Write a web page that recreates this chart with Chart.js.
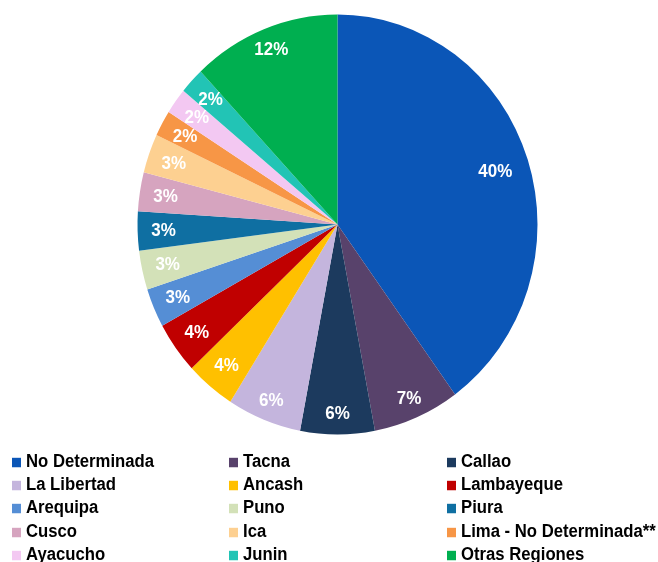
<!DOCTYPE html>
<html>
<head>
<meta charset="utf-8">
<title>Distribución por región</title>
<script src="https://cdn.jsdelivr.net/npm/chart.js@4/dist/chart.umd.min.js"></script>
<style>
  html, body { margin: 0; padding: 0; background: #ffffff; }
  body { width: 658px; height: 562px; position: relative; overflow: hidden;
         font-family: "Liberation Sans", Arial, sans-serif; }
  #pieBox { position: absolute; left: 0; top: 0; width: 658px; height: 445px; }
  #legend { position: absolute; left: 0; top: 0; width: 658px; height: 562px; }
  .item { position: absolute; font-weight: bold; font-size: 16.7px; color: #000;
          white-space: nowrap; line-height: 18px; transform: scaleY(1.05); transform-origin: left center; }
  .item i { position: absolute; left: -14px; top: 5px; width: 9px; height: 9px; }
</style>
</head>
<body>
<div id="pieBox"><canvas id="pie"></canvas></div>
<div id="legend"></div>
<script>
/* ---- Data ---- */
const REGIONS = [
  "No Determinada", "Tacna", "Callao",
  "La Libertad", "Ancash", "Lambayeque",
  "Arequipa", "Puno", "Piura",
  "Cusco", "Ica", "Lima - No Determinada**",
  "Ayacucho", "Junin", "Otras Regiones",
];
const SHARES = [40, 7, 6, 6, 4, 4, 3, 3, 3, 3, 3, 2, 2, 2, 12];
const COLORS = [
  "#0B56B7", "#58426B", "#1C3A5E",
  "#C4B5DD", "#FFC000", "#C00000",
  "#558ED5", "#D3E1B8", "#0F6FA2",
  "#D6A4BF", "#FDD091", "#F79646",
  "#F3C8F2", "#22C4B5", "#00AF50",
];

/* pie is drawn a little taller than wide */
const STRETCH_Y = 1.05;

/* Squash the arcs into an ellipse and write the percentage labels */
const ovalPie = {
  id: "ovalPie",
  beforeDatasetsDraw(chart) {
    const arc = chart.getDatasetMeta(0).data[0];
    const ctx = chart.ctx;
    ctx.save();
    ctx.translate(arc.x, arc.y);
    ctx.scale(1, STRETCH_Y);
    ctx.translate(-arc.x, -arc.y);
  },
  afterDatasetsDraw(chart) {
    const ctx = chart.ctx;
    ctx.restore();

    const arcs = chart.getDatasetMeta(0).data;
    ctx.save();
    ctx.fillStyle = "#ffffff";
    ctx.font = 'bold 17px "Liberation Sans", Arial, sans-serif';
    ctx.textAlign = "center";
    ctx.textBaseline = "middle";
    arcs.forEach((arc, i) => {
      const v = SHARES[i];
      const mid = (arc.startAngle + arc.endAngle) / 2;
      const f = v >= 20 ? 0.83 : (v >= 6 ? 0.9 : 0.87);
      const x = arc.x + Math.cos(mid) * arc.outerRadius * f;
      const y = arc.y + Math.sin(mid) * arc.outerRadius * f * STRETCH_Y;
      ctx.save();
      ctx.translate(x, y);
      ctx.scale(1, STRETCH_Y);
      ctx.fillText(v + "%", 0, 1);
      ctx.restore();
    });
    ctx.restore();
  },
};

new Chart(document.getElementById("pie"), {
  type: "pie",
  data: {
    labels: REGIONS,
    datasets: [{
      data: SHARES,
      backgroundColor: COLORS,
      borderWidth: 0,
      hoverBorderWidth: 0,
      hoverOffset: 0,
      clip: false,
    }],
  },
  options: {
    responsive: true,
    maintainAspectRatio: false,
    animation: false,
    layout: { padding: { left: 137.5, right: 120.5, top: 24.5, bottom: 20.5 } },
    plugins: {
      legend: { display: false },
      tooltip: { enabled: false },
    },
  },
  plugins: [ovalPie],
});

/* ---- Legend: three columns below the pie ---- */
const legend = document.getElementById("legend");
const COL_X = [26, 243, 461];
const ROW_Y0 = 452.5, ROW_STEP = 23.4;
REGIONS.forEach((name, i) => {
  const el = document.createElement("div");
  el.className = "item";
  el.style.left = COL_X[i % 3] + "px";
  el.style.top = (ROW_Y0 + Math.floor(i / 3) * ROW_STEP) + "px";
  const sw = document.createElement("i");
  sw.style.background = COLORS[i];
  el.appendChild(sw);
  el.appendChild(document.createTextNode(name));
  legend.appendChild(el);
});
</script>
</body>
</html>
